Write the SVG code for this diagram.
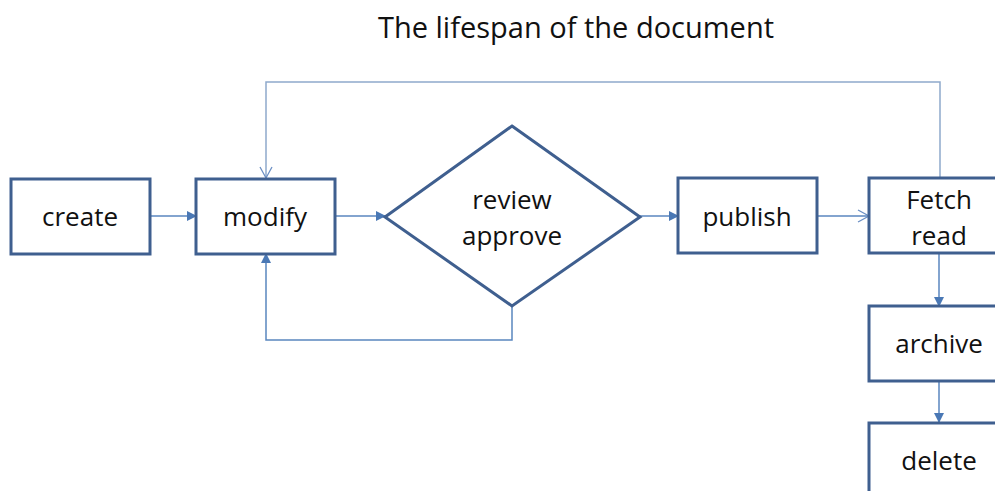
<svg xmlns="http://www.w3.org/2000/svg" width="995" height="491" viewBox="0 0 995 491">
<style>
.node{fill:#fff;stroke:#3f5f8f;stroke-width:3}
.lbl{font-family:"Open Sans","Liberation Sans",sans-serif;font-size:26px;fill:#111;text-anchor:middle}
.conn{fill:none;stroke:#5a86bf;stroke-width:1.5}
.loop{fill:none;stroke:#8fa9cc;stroke-width:1.5}
</style>
<defs>
<marker id="fill" markerWidth="10" markerHeight="10" refX="9" refY="5" orient="auto" markerUnits="userSpaceOnUse">
<path d="M0,0 L10,5 L0,10 Z" fill="#4a78b5"/>
</marker>
<marker id="open" markerWidth="14" markerHeight="14" refX="12" refY="7" orient="auto" markerUnits="userSpaceOnUse">
<path d="M1,1 L12,7 L1,13" fill="none" stroke="#6b8fc4" stroke-width="1.3"/>
</marker>
</defs>
<rect width="995" height="491" fill="#fff"/>
<text x="576" y="38" font-family="Open Sans, Liberation Sans, sans-serif" font-size="29" fill="#111" text-anchor="middle">The lifespan of the document</text>
<g id="connectors">
<line class="conn" x1="150" y1="216" x2="196" y2="216" marker-end="url(#fill)"/>
<line class="conn" x1="335" y1="216" x2="385" y2="216" marker-end="url(#fill)"/>
<line class="conn" x1="640" y1="216" x2="678" y2="216" marker-end="url(#fill)"/>
<line class="conn" x1="817" y1="216" x2="869" y2="216" marker-end="url(#open)"/>
<line class="conn" x1="939" y1="254" x2="939" y2="306" marker-end="url(#fill)"/>
<line class="conn" x1="939" y1="381" x2="939" y2="422" marker-end="url(#fill)"/>
<polyline class="conn" points="512,306 512,340 266,340 266,254" marker-end="url(#fill)"/>
<polyline class="loop" points="940,178 940,82 266,82 266,178" marker-end="url(#open)"/>
</g>
<g id="create"><rect class="node" x="11" y="179" width="139" height="75"/><text class="lbl" x="80" y="226">create</text></g>
<g id="modify"><rect class="node" x="196" y="179" width="139" height="75"/><text class="lbl" x="265" y="226">modify</text></g>
<g id="review"><polygon class="node" points="512,126 640,217 512,306 385,217"/><text class="lbl" x="512" y="209">review</text><text class="lbl" x="512" y="245">approve</text></g>
<g id="publish"><rect class="node" x="678" y="178" width="139" height="75"/><text class="lbl" x="747" y="226">publish</text></g>
<g id="fetch"><rect class="node" x="869" y="178" width="140" height="75"/><text class="lbl" x="939" y="209">Fetch</text><text class="lbl" x="939" y="245">read</text></g>
<g id="archive"><rect class="node" x="869" y="306" width="140" height="75"/><text class="lbl" x="939" y="353">archive</text></g>
<g id="delete"><rect class="node" x="869" y="423" width="140" height="80"/><text class="lbl" x="939" y="470">delete</text></g>
</svg>
